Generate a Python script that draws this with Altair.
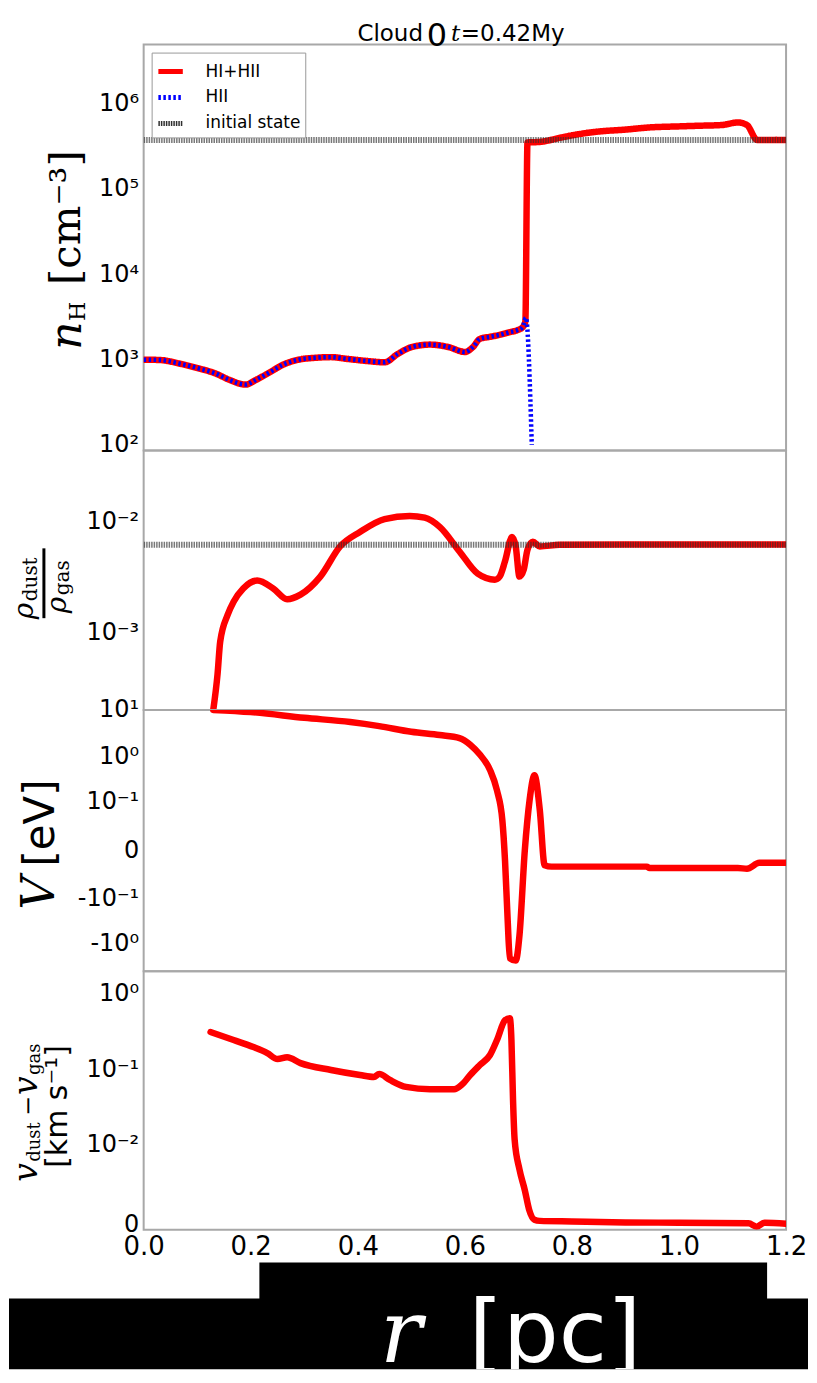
import altair as alt
import pandas as pd

# ---------------- data ----------------
r_tot = [0.0, 0.03, 0.07, 0.106, 0.134, 0.16, 0.19, 0.21, 0.237, 0.26, 0.29, 0.32, 0.35, 0.38,
         0.42, 0.45, 0.475, 0.5, 0.535, 0.57, 0.6, 0.615, 0.628, 0.647, 0.665, 0.684, 0.697,
         0.708, 0.713, 0.717, 0.74, 0.78, 0.82, 0.85, 0.9, 0.945, 1.0, 1.04, 1.08, 1.11,
         1.127, 1.146, 1.17, 1.2]
nH_tot = [1.0e3, 9.9e2, 8.9e2, 7.8e2, 6.9e2, 5.8e2, 5.1e2, 5.8e2, 7.2e2, 8.7e2, 1.0e3, 1.05e3,
          1.07e3, 1.02e3, 9.6e2, 9.3e2, 1.17e3, 1.4e3, 1.5e3, 1.4e3, 1.23e3, 1.4e3, 1.75e3,
          1.85e3, 1.95e3, 2.1e3, 2.2e3, 2.4e3, 2.8e3, 3.5e5, 3.55e5, 4.0e5, 4.45e5, 4.7e5,
          4.95e5, 5.25e5, 5.4e5, 5.5e5, 5.6e5, 6.0e5, 5.6e5, 3.75e5, 3.75e5, 3.75e5]

r_hii = [0.0, 0.03, 0.07, 0.106, 0.134, 0.16, 0.19, 0.21, 0.237, 0.26, 0.29, 0.32, 0.35, 0.38,
         0.42, 0.45, 0.475, 0.5, 0.535, 0.57, 0.6, 0.615, 0.628, 0.647, 0.665, 0.684, 0.697,
         0.708, 0.714, 0.725]
nH_hii = [1.0e3, 9.9e2, 8.9e2, 7.8e2, 6.9e2, 5.8e2, 5.1e2, 5.8e2, 7.2e2, 8.7e2, 1.0e3, 1.05e3,
          1.07e3, 1.02e3, 9.6e2, 9.3e2, 1.17e3, 1.4e3, 1.5e3, 1.4e3, 1.23e3, 1.4e3, 1.75e3,
          1.85e3, 1.95e3, 2.1e3, 2.2e3, 2.4e3, 3.1e3, 1.0e2]

r_init = [0.0, 1.2]
nH_init = [3.75e5, 3.75e5]
ratio_init = [6.2e-3, 6.2e-3]

r_dust = [0.13, 0.138, 0.143, 0.157, 0.168, 0.186, 0.212, 0.242, 0.268, 0.293, 0.33, 0.367,
          0.404, 0.45, 0.497, 0.525, 0.553, 0.59, 0.624, 0.656, 0.665, 0.675, 0.688, 0.695,
          0.702, 0.71, 0.717, 0.727, 0.74, 0.777, 0.9, 1.05, 1.2]
ratio_dust = [2.0e-4, 4.2e-4, 8.3e-4, 1.45e-3, 1.9e-3, 2.5e-3, 2.95e-3, 2.5e-3, 2.0e-3, 2.2e-3,
              3.2e-3, 6.0e-3, 8.1e-3, 1.06e-2, 1.13e-2, 1.09e-2, 9.0e-3, 5.4e-3, 3.4e-3, 3.0e-3,
              3.2e-3, 4.4e-3, 7.3e-3, 6.0e-3, 3.2e-3, 3.7e-3, 5.6e-3, 6.6e-3, 6.0e-3, 6.2e-3,
              6.25e-3, 6.25e-3, 6.25e-3]

r_V = [0.13, 0.2, 0.3, 0.386, 0.44, 0.5, 0.553, 0.59, 0.61, 0.628, 0.647, 0.66, 0.67, 0.675,
       0.68, 0.684, 0.695, 0.702, 0.712, 0.721, 0.73, 0.74, 0.749, 0.762, 0.94, 0.945, 1.11,
       1.127, 1.15, 1.2]
V_vals = [10, 9.0, 6.8, 5.5, 4.5, 3.4, 2.9, 2.5, 1.8, 1.1, 0.51, 0.18, 0.034, -0.0064, -0.31,
          -2.05, -2.3, -0.66, 0.0, 0.11, 0.39, 0.062, -0.011, -0.0125, -0.0125, -0.014, -0.014,
          -0.015, -0.0087, -0.0087]

r_dv = [0.125, 0.168, 0.205, 0.231, 0.25, 0.268, 0.293, 0.35, 0.404, 0.43, 0.44, 0.46, 0.49,
        0.535, 0.58, 0.594, 0.61, 0.628, 0.647, 0.66, 0.675, 0.684, 0.687, 0.69, 0.693, 0.702,
        0.712, 0.72, 0.73, 0.74, 0.8, 0.9, 1.0, 1.13, 1.145, 1.16, 1.2]
dv_vals = [0.313, 0.246, 0.199, 0.166, 0.139, 0.147, 0.123, 0.100, 0.086, 0.081, 0.089, 0.074,
           0.060, 0.056, 0.056, 0.064, 0.086, 0.116, 0.157, 0.246, 0.445, 0.473, 0.246, 0.04,
           0.0116, 0.0042, 0.0018, 0.00057, 0.00016, 0.00012, 0.0001, 0.00007, 0.00006,
           0.00004, -0.00006, 0.00006, 0.00003]

x_ticks = [0.0, 0.2, 0.4, 0.6, 0.8, 1.0, 1.2]
nH_ticks = [1e2, 1e3, 1e4, 1e5, 1e6]
nH_labels = ["10²", "10³", "10⁴", "10⁵", "10⁶"]
ratio_ticks = [1e-3, 1e-2]
ratio_labels = ["10⁻³", "10⁻²"]
V_ticks = [10, 1, 0.1, 0, -0.1, -1]
V_labels = ["10¹", "10⁰", "10⁻¹", "0", "-10⁻¹", "-10⁰"]
dv_ticks = [1, 0.1, 0.01, 0]
dv_labels = ["10⁰", "10⁻¹", "10⁻²", "0"]

series_names = ["HI+HII", "HII", "initial state"]
series_colors = ["#ff0000", "#0000ff", "#303030"]
series_dash = [[1, 0], [2.5, 2.5], [1.5, 1]]

# ---------------- helpers ----------------
W = 644
H1, H2, H3, H4, HF = 407, 260, 262, 259, 140
XR = 666  # right-most drawable pixel, relative to the plot origin
dummy = pd.DataFrame({"k": [0]})
RED = "#ff0000"
INIT_COLOR = "#303030"
INIT_OPACITY = 0.65


def label_expr(vals, labs):
    expr = "''"
    for v, l in reversed(list(zip(vals, labs))):
        expr = f"datum.value == {v!r} ? '{l}' : ({expr})"
    return expr


def y_axis(vals, labs):
    return alt.Axis(values=vals, labelExpr=label_expr(vals, labs), title=None, ticks=False,
                    domain=False, grid=False, labelFont="DejaVu Sans", labelFontSize=24,
                    labelColor="black", labelPadding=5, labelFlush=False, labelOverlap=False)


x_scale = alt.Scale(domain=[0, 1.2], nice=False, zero=False)


def x_enc(show=False):
    if show:
        return alt.X("r:Q", scale=x_scale,
                     axis=alt.Axis(values=x_ticks, format=".1f", title=None, ticks=False,
                                   domain=False, grid=False, labelFont="DejaVu Sans",
                                   labelFontSize=26, labelColor="black", labelPadding=4,
                                   labelFlush=False, labelOverlap=False))
    return alt.X("r:Q", scale=x_scale, axis=None)


def txt(s, x, y, size, font="DejaVu Sans", italic=False, angle=0, align="left",
        color="black", clip=False):
    kw = dict(text=s, fontSize=size, font=font, align=align, baseline="alphabetic",
              color=color, angle=angle)
    if italic:
        kw["fontStyle"] = "italic"
    if clip:
        kw["clip"] = True
    return alt.Chart(dummy).mark_text(**kw).encode(x=alt.value(x), y=alt.value(y))


def box(x1, x2, y1, y2, color="black"):
    return alt.Chart(dummy).mark_rect(color=color).encode(
        x=alt.value(x1), x2=alt.value(x2), y=alt.value(y1), y2=alt.value(y2))


def red_line(df, y_enc, x_show=False):
    return alt.Chart(df).mark_line(color=RED, strokeWidth=6.5, strokeCap="round",
                                   strokeJoin="round", interpolate="monotone",
                                   clip=True).encode(x=x_enc(x_show), y=y_enc)


leg = alt.Legend(title=None, orient="top-left", offset=8, padding=4, strokeColor="#999999",
                 fillColor="white", labelFont="DejaVu Sans", labelFontSize=17,
                 labelColor="black", symbolType="stroke", symbolSize=600,
                 symbolStrokeWidth=5, rowPadding=1, labelOffset=20)

# ---------------- panel 1 : n_H ----------------
df_tot = pd.DataFrame({"r": r_tot, "v": nH_tot, "series": "HI+HII"})
df_hii = pd.DataFrame({"r": r_hii, "v": nH_hii, "series": "HII"})
df_init1 = pd.DataFrame({"r": r_init, "v": nH_init, "series": "initial state"})

y1 = alt.Y("v:Q", scale=alt.Scale(type="log", domain=[86, 4.9e6], nice=False),
           axis=y_axis(nH_ticks, nH_labels))


def series_layer(df, width, opacity=1.0, cap="butt"):
    return alt.Chart(df).mark_line(strokeWidth=width, opacity=opacity, strokeCap=cap,
                                   strokeJoin="round", interpolate="monotone",
                                   clip=True).encode(
        x=x_enc(), y=y1,
        color=alt.Color("series:N", scale=alt.Scale(domain=series_names, range=series_colors),
                        legend=leg),
        strokeDash=alt.StrokeDash("series:N",
                                  scale=alt.Scale(domain=series_names, range=series_dash),
                                  legend=leg),
    )


p1 = alt.layer(
    series_layer(df_tot, 6.5, cap="round"),
    series_layer(df_hii, 4.5),
    series_layer(df_init1, 6, opacity=INIT_OPACITY),
    # title
    txt("Cloud", 280, -4, 23, align="right"),
    txt("0", 294, 1, 32, align="center"),
    txt("t", 308, -4, 23, font="DejaVu Serif", italic=True),
    txt("=0.42My", 318, -4, 23),
    # y title  n_H [cm^-3]
    txt("n", -63, 306, 44, font="DejaVu Serif", italic=True, angle=270),
    txt("H", -59, 277, 22, font="DejaVu Serif", angle=270),
    txt("[cm⁻³]", -64, 241, 42, font="DejaVu Serif", angle=270),
    alt.Chart(dummy).mark_rule(strokeOpacity=0, strokeWidth=1).encode(
        x=alt.value(0), x2=alt.value(10), y=alt.value(-33.5)),
).properties(width=W, height=H1)

# ---------------- panel 2 : dust-to-gas ----------------
df_dust = pd.DataFrame({"r": r_dust, "v": ratio_dust})
df_init2 = pd.DataFrame({"r": r_init, "v": ratio_init})
y2 = alt.Y("v:Q", scale=alt.Scale(type="log", domain=[2.0e-4, 0.044], nice=False),
           axis=y_axis(ratio_ticks, ratio_labels))

p2 = alt.layer(
    red_line(df_dust, y2),
    alt.Chart(df_init2).mark_line(color=INIT_COLOR, strokeWidth=6, opacity=INIT_OPACITY,
                                  strokeDash=[1.5, 1], clip=True).encode(x=x_enc(), y=y2),
    alt.Chart(dummy).mark_rule(color="black", strokeWidth=3).encode(
        x=alt.value(-100), y=alt.value(98), y2=alt.value(168)),
    txt("ρ", -111, 169, 28, font="DejaVu Serif", italic=True, angle=270),
    txt("dust", -107, 151, 20, font="DejaVu Serif", angle=270),
    txt("ρ", -78, 163, 28, font="DejaVu Serif", italic=True, angle=270),
    txt("gas", -75, 145, 20, font="DejaVu Serif", angle=270),
).properties(width=W, height=H2)

# ---------------- panel 3 : V ----------------
df_V = pd.DataFrame({"r": r_V, "v": V_vals})
y3 = alt.Y("v:Q", scale=alt.Scale(type="symlog", constant=0.01, domain=[-3.9, 10], nice=False,
                                  zero=False),
           axis=y_axis(V_ticks, V_labels))

p3 = alt.layer(
    red_line(df_V, y3),
    txt("V", -90, 200, 46, font="DejaVu Serif", italic=True, angle=270),
    txt("[eV]", -90, 157, 42, angle=270),
).properties(width=W, height=H3)

# ---------------- panel 4 : drift velocity ----------------
df_dv = pd.DataFrame({"r": r_dv, "v": dv_vals})
y4 = alt.Y("v:Q", scale=alt.Scale(type="symlog", constant=0.001, domain=[-0.00016, 1.92],
                                  nice=False, zero=False),
           axis=y_axis(dv_ticks, dv_labels))

p4 = alt.layer(
    red_line(df_dv, y4, x_show=True),
    txt("v", -107, 211, 33, font="DejaVu Serif", italic=True, angle=270),
    txt("dust", -104, 191, 18, font="DejaVu Serif", angle=270),
    txt("−", -108, 145, 24, font="DejaVu Serif", angle=270),
    txt("v", -107, 124, 33, font="DejaVu Serif", italic=True, angle=270),
    txt("gas", -104, 104, 18, font="DejaVu Serif", angle=270),
    txt("[km s⁻¹]", -77, 197, 30, angle=270),
).properties(width=W, height=H4)

# ---------------- footer : r [pc] ----------------
footer = alt.layer(
    box(116, 625, 33, 70),
    box(-135, XR, 69, HF),
    txt("r", 237, 133, 88, font="DejaVu Serif", italic=True, color="white", clip=True),
    txt("[pc]", 326, 133, 88, color="white", clip=True),
).properties(width=W, height=HF, view=alt.ViewBackground(stroke="transparent"))

chart = alt.vconcat(p1, p2, p3, p4, footer, spacing=0, bounds="flush").properties(
    padding=0
).configure_view(stroke="#a8a8a8", strokeWidth=2)

chart.save("out.html", embed_options={"renderer": "svg", "actions": False})
